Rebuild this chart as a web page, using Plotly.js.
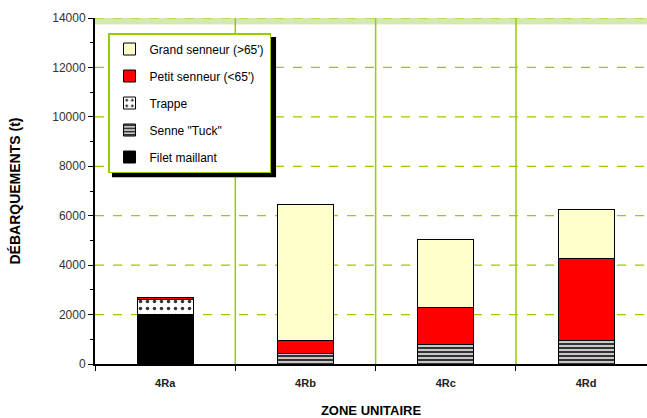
<!DOCTYPE html>
<html><head><meta charset="utf-8">
<script src="https://cdn.plot.ly/plotly-3.0.1.min.js"></script>
<style>html,body{margin:0;padding:0;background:#fff}#chart{width:647px;height:418px}</style>
</head><body><div id="chart"></div>
<script>
var zones = ['4Ra', '4Rb', '4Rc', '4Rd'];
var filetMaillant = [2000, 0, 0, 0];
var senneTuck = [0, 430, 770, 950];
var trappe = [620, 0, 0, 0];
var petitSenneur = [80, 510, 1530, 3330];
var grandSenneur = [0, 5510, 2720, 1980];
var yTicks = [0, 2000, 4000, 6000, 8000, 10000, 12000, 14000];

var F = 'Liberation Sans, Arial, sans-serif';
var GREEN = 'rgb(153,204,0)';
var line = {color: '#000', width: 1};
function bar(name, y, rank, marker) {
  marker.line = line;
  return {type: 'bar', name: name, x: zones, y: y, marker: marker, legendgroup: name, legendrank: rank};
}
var data = [
  bar('Filet maillant', filetMaillant, 5, {color: '#000'}),
  bar('Senne "Tuck"', senneTuck, 4, {color: '#c8c8c8', pattern: {shape: '-', fgcolor: '#222', bgcolor: '#c8c8c8', size: 4, solidity: 0.45}}),
  bar('Trappe', trappe, 3, {color: '#fff', pattern: {shape: '.', fgcolor: '#333', bgcolor: '#fff', size: 7, solidity: 0.2}}),
  bar('Petit senneur (<65\')', petitSenneur, 2, {color: '#ff0000'}),
  bar('Grand senneur (>65\')', grandSenneur, 1, {color: '#ffffcc'})
];

var shapes = [
  {type: 'rect', xref: 'paper', yref: 'y', x0: 0, x1: 1, y0: 13740, y1: 14000, fillcolor: 'rgba(160,205,80,0.45)', line: {width: 0}, layer: 'below'}
];
yTicks.forEach(function (v) {
  if (v > 0) shapes.push({type: 'line', xref: 'paper', yref: 'y', x0: 0, x1: 1, y0: v, y1: v, line: {color: GREEN, width: 1.2, dash: 'dash'}, layer: 'below'});
});
for (var i = 0; i < zones.length - 1; i++) {
  shapes.push({type: 'line', xref: 'x', yref: 'paper', x0: i + 0.5, x1: i + 0.5, y0: 0, y1: 1, line: {color: GREEN, width: 1.5}, layer: 'below'});
}
// legend drop shadow
shapes.push({type: 'rect', xref: 'paper', yref: 'paper', x0: 0.0308, x1: 0.328, y0: 0.540, y1: 0.945, fillcolor: '#000', line: {width: 0}, layer: 'above'});

var layout = {
  width: 647, height: 418,
  margin: {l: 95, r: 0, t: 18, b: 54},
  paper_bgcolor: '#fff', plot_bgcolor: '#fff',
  barmode: 'stack', bargap: 0.6,
  font: {family: F, color: '#222', size: 12},
  showlegend: true,
  legend: {
    x: 0.0236, y: 0.9566, xanchor: 'left', yanchor: 'top',
    bgcolor: '#fff', bordercolor: GREEN, borderwidth: 1.5,
    traceorder: 'grouped', tracegroupgap: 8,
    font: {family: F, size: 12, color: '#000'}
  },
  xaxis: {
    range: [-0.5, 3.434], type: 'category',
    tickson: 'boundaries', ticks: 'outside', ticklen: 5, tickcolor: '#000',
    showgrid: false,
    showline: true, linecolor: '#000', linewidth: 2,
    ticklabelstandoff: 8,
    tickfont: {family: F, size: 11, color: '#222', weight: 'bold'},
    title: {text: 'ZONE UNITAIRE', font: {family: F, size: 13, color: '#000', weight: 'bold'}, standoff: 22},
    fixedrange: true
  },
  yaxis: {
    range: [0, 14000], tickvals: yTicks, tickformat: 'd',
    ticks: 'outside', ticklen: 5, tickcolor: '#000',
    minor: {dtick: 1000, ticks: 'outside', ticklen: 3, tickcolor: '#000', showgrid: false},
    showgrid: false,
    showline: true, linecolor: '#000', linewidth: 2,
    zeroline: false,
    tickfont: {family: F, size: 12, color: '#333'},
    title: {text: 'DÉBARQUEMENTS (t)', font: {family: F, size: 14, color: '#000', weight: 'bold'}, standoff: 28},
    fixedrange: true
  },
  shapes: shapes
};
Plotly.newPlot('chart', data, layout, {displayModeBar: false, staticPlot: true});
</script></body></html>
